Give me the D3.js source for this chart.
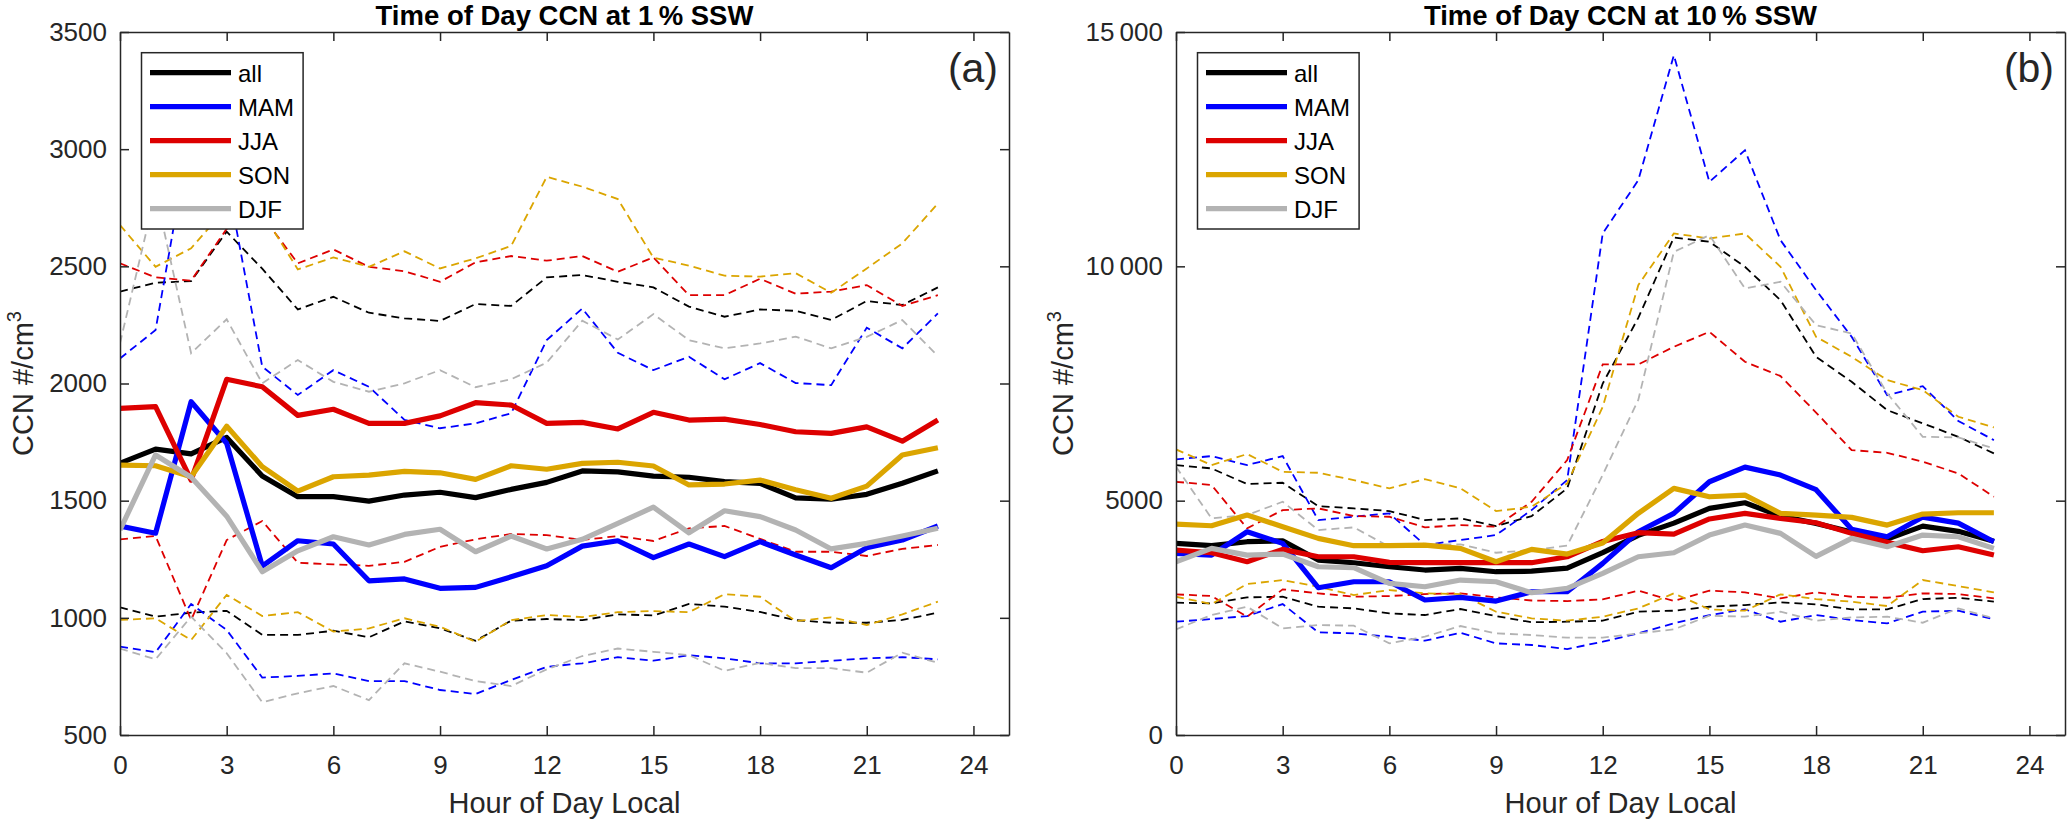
<!DOCTYPE html>
<html>
<head>
<meta charset="utf-8">
<script src="https://cdn.jsdelivr.net/npm/d3@7"></script>
<style>
  body { margin: 0; background: #fff; }
  svg { display: block; font-family: "Liberation Sans", Arial, Helvetica, sans-serif; }
</style>
</head>
<body>
<svg id="chart" width="2067" height="821"></svg>
<script>
// hours of the day and legend entries
const hours = [0, 1, 2, 3, 4, 5, 6, 7, 8, 9, 10, 11, 12, 13, 14, 15, 16, 17, 18, 19, 20, 21, 22, 23];
const seasons = ["all", "MAM", "JJA", "SON", "DJF"];
const xTicks = [0, 3, 6, 9, 12, 15, 18, 21, 24];
const yTicks1 = [500, 1000, 1500, 2000, 2500, 3000, 3500];
const yTicks10 = [0, 5000, 10000, 15000];

// (a) CCN at 1% SSW: mean, upper and lower dashed curves
const ssw1_all    = [1660, 1720, 1700, 1770, 1605, 1517, 1517, 1498, 1524, 1536, 1513, 1548, 1578, 1627, 1623, 1605, 1600, 1581, 1574, 1512, 1506, 1527, 1574, 1627];
const ssw1_all_hi = [2392, 2430, 2437, 2648, 2490, 2316, 2370, 2302, 2278, 2267, 2339, 2331, 2453, 2463, 2434, 2410, 2328, 2285, 2316, 2310, 2271, 2352, 2335, 2410];
const ssw1_all_lo = [1045, 1005, 1022, 1030, 927, 927, 945, 917, 985, 955, 902, 988, 995, 990, 1015, 1010, 1059, 1048, 1025, 990, 979, 979, 991, 1022];
const ssw1_MAM    = [1392, 1361, 1922, 1745, 1221, 1329, 1315, 1158, 1166, 1126, 1130, 1175, 1222, 1306, 1329, 1257, 1315, 1261, 1325, 1268, 1214, 1299, 1332, 1392];
const ssw1_MAM_hi = [2107, 2228, 3090, 2880, 2072, 1951, 2057, 1986, 1845, 1809, 1830, 1873, 2185, 2320, 2131, 2057, 2114, 2018, 2087, 2002, 1993, 2238, 2150, 2299];
const ssw1_MAM_lo = [877, 853, 1059, 948, 745, 752, 763, 730, 730, 692, 675, 735, 791, 806, 832, 817, 841, 827, 806, 806, 817, 827, 832, 823];
const ssw1_JJA    = [1894, 1901, 1588, 2018, 1986, 1864, 1890, 1830, 1830, 1862, 1918, 1908, 1830, 1834, 1806, 1877, 1844, 1848, 1825, 1794, 1787, 1815, 1754, 1844];
const ssw1_JJA_hi = [2513, 2453, 2439, 2660, 2715, 2513, 2572, 2498, 2479, 2434, 2517, 2544, 2524, 2544, 2477, 2538, 2377, 2377, 2447, 2383, 2392, 2420, 2331, 2377];
const ssw1_JJA_lo = [1335, 1349, 991, 1332, 1413, 1235, 1228, 1222, 1239, 1303, 1335, 1358, 1353, 1332, 1349, 1328, 1382, 1392, 1337, 1282, 1282, 1264, 1294, 1311];
const ssw1_SON    = [1652, 1649, 1602, 1818, 1645, 1541, 1602, 1609, 1625, 1619, 1591, 1649, 1634, 1659, 1664, 1648, 1567, 1571, 1588, 1547, 1510, 1562, 1695, 1726];
const ssw1_SON_hi = [2676, 2498, 2577, 2750, 2730, 2487, 2538, 2498, 2564, 2491, 2534, 2587, 2882, 2840, 2787, 2537, 2503, 2460, 2456, 2471, 2387, 2491, 2598, 2768];
const ssw1_SON_lo = [991, 998, 905, 1098, 1008, 1024, 941, 955, 998, 962, 898, 990, 1012, 1003, 1024, 1029, 1024, 1101, 1090, 986, 1002, 969, 1015, 1069];
const ssw1_DJF    = [1375, 1695, 1600, 1434, 1197, 1286, 1346, 1311, 1356, 1378, 1282, 1349, 1294, 1335, 1403, 1472, 1363, 1457, 1432, 1375, 1294, 1318, 1349, 1382];
const ssw1_DJF_hi = [2172, 2815, 2129, 2274, 2001, 2100, 2007, 1965, 2001, 2057, 1984, 2018, 2089, 2268, 2188, 2296, 2185, 2150, 2171, 2200, 2150, 2199, 2271, 2117];
const ssw1_DJF_lo = [869, 823, 1005, 849, 640, 678, 709, 649, 806, 770, 730, 709, 780, 837, 869, 855, 841, 774, 808, 785, 785, 766, 851, 808];

// (b) CCN at 10% SSW
const ssw10_all    = [4089, 4039, 4124, 4145, 3733, 3676, 3590, 3520, 3556, 3484, 3495, 3560, 3890, 4260, 4520, 4835, 4955, 4670, 4515, 4330, 4180, 4458, 4345, 4135];
const ssw10_all_hi = [5759, 5688, 5354, 5382, 4885, 4835, 4778, 4586, 4622, 4458, 4671, 5262, 7500, 8900, 10616, 10523, 9990, 9279, 8069, 7536, 6932, 6649, 6363, 6008];
const ssw10_all_lo = [2823, 2808, 2937, 2950, 2737, 2702, 2595, 2560, 2688, 2538, 2405, 2417, 2439, 2631, 2652, 2737, 2773, 2830, 2787, 2681, 2681, 2901, 2929, 2844];
const ssw10_MAM    = [3875, 3839, 4337, 4089, 3142, 3270, 3270, 2880, 2937, 2858, 3057, 3057, 3662, 4337, 4729, 5403, 5715, 5546, 5235, 4388, 4230, 4650, 4520, 4124];
const ssw10_MAM_hi = [5880, 5951, 5759, 5951, 4586, 4657, 4729, 4053, 4160, 4266, 4799, 5439, 10701, 11838, 14504, 11802, 12478, 10558, 9492, 8496, 7252, 7444, 6700, 6292];
const ssw10_MAM_lo = [2417, 2474, 2538, 2794, 2190, 2169, 2098, 2012, 2183, 1955, 1920, 1834, 1990, 2169, 2382, 2560, 2681, 2417, 2560, 2453, 2382, 2631, 2652, 2467];
const ssw10_JJA    = [3946, 3889, 3697, 3961, 3803, 3803, 3683, 3676, 3676, 3676, 3676, 3803, 4130, 4316, 4288, 4610, 4729, 4620, 4529, 4302, 4110, 3931, 4017, 3839];
const ssw10_JJA_hi = [5403, 5333, 4409, 4799, 4835, 4671, 4657, 4430, 4479, 4444, 4977, 5866, 7907, 7907, 8283, 8603, 7963, 7658, 6880, 6079, 6022, 5830, 5582, 5083];
const ssw10_JJA_lo = [3001, 2965, 2524, 3108, 3022, 2950, 2965, 3008, 3022, 2937, 2870, 2858, 2894, 3079, 2858, 3079, 3044, 2915, 3044, 2950, 2929, 3022, 3008, 2915];
const ssw10_SON    = [4501, 4465, 4693, 4444, 4195, 4039, 4039, 4053, 3982, 3697, 3961, 3861, 4095, 4729, 5262, 5083, 5119, 4729, 4693, 4643, 4479, 4714, 4742, 4742];
const ssw10_SON_hi = [6094, 5759, 5994, 5616, 5595, 5439, 5262, 5461, 5262, 4778, 4870, 5369, 7000, 9599, 10701, 10594, 10701, 9990, 8496, 8069, 7572, 7359, 6790, 6563];
const ssw10_SON_lo = [2950, 2794, 3221, 3306, 3164, 2986, 3093, 3022, 3008, 2631, 2489, 2439, 2524, 2702, 3022, 2681, 2652, 3001, 2901, 2844, 2752, 3306, 3178, 3044];
const ssw10_DJF    = [3697, 3982, 3839, 3861, 3590, 3569, 3236, 3164, 3306, 3270, 3035, 3128, 3449, 3803, 3889, 4266, 4479, 4302, 3810, 4195, 4017, 4266, 4230, 3982];
const ssw10_DJF_hi = [5723, 4622, 4693, 4977, 4373, 4430, 4017, 4068, 4068, 3889, 3946, 4039, 5550, 7150, 10309, 10665, 9528, 9670, 8745, 8568, 7290, 6363, 6349, 6115];
const ssw10_DJF_lo = [2254, 2560, 2737, 2276, 2346, 2332, 1955, 2098, 2325, 2169, 2133, 2076, 2076, 2169, 2254, 2545, 2524, 2631, 2439, 2510, 2524, 2396, 2702, 2489];

const color = d3.scaleOrdinal()
    .domain(seasons)
    .range(["#000000", "#0000ff", "#dd0000", "#dba500", "#b3b3b3"]);

const panels = [
    {
        title: "Time of Day CCN at 1\u2009% SSW", tag: "(a)", left: 120, right: 1009,
        yDomain: [500, 3500], yTicks: yTicks1,
        mean: [ssw1_all, ssw1_MAM, ssw1_JJA, ssw1_SON, ssw1_DJF],
        hi: [ssw1_all_hi, ssw1_MAM_hi, ssw1_JJA_hi, ssw1_SON_hi, ssw1_DJF_hi],
        lo: [ssw1_all_lo, ssw1_MAM_lo, ssw1_JJA_lo, ssw1_SON_lo, ssw1_DJF_lo]
    },
    {
        title: "Time of Day CCN at 10\u2009% SSW", tag: "(b)", left: 1176, right: 2065,
        yDomain: [0, 15000], yTicks: yTicks10,
        mean: [ssw10_all, ssw10_MAM, ssw10_JJA, ssw10_SON, ssw10_DJF],
        hi: [ssw10_all_hi, ssw10_MAM_hi, ssw10_JJA_hi, ssw10_SON_hi, ssw10_DJF_hi],
        lo: [ssw10_all_lo, ssw10_MAM_lo, ssw10_JJA_lo, ssw10_SON_lo, ssw10_DJF_lo]
    }
];

const plotTop = 32, plotBottom = 735;
const axisColor = "#262626";
const svg = d3.select("#chart");

// 10000 and up get a thin-space thousands separator, like the original
const fmtY = v => v >= 10000 ? d3.format(",")(v).replace(",", "\u2009") : String(v);

panels.forEach((p, pi) => {
    const x = d3.scaleLinear().domain([0, 25]).range([p.left, p.right]);
    const y = d3.scaleLinear().domain(p.yDomain).range([plotBottom, plotTop]);
    const g = svg.append("g");

    g.append("clipPath").attr("id", "clip" + pi)
        .append("rect")
        .attr("x", p.left).attr("y", plotTop)
        .attr("width", p.right - p.left).attr("height", plotBottom - plotTop);

    const line = d3.line()
        .x((d, i) => x(hours[i]))
        .y(d => y(d));

    const plot = g.append("g").attr("clip-path", `url(#clip${pi})`);

    // dashed spread curves first
    seasons.forEach((s, si) => {
        [p.hi[si], p.lo[si]].forEach(arr => {
            plot.append("path")
                .datum(arr)
                .attr("fill", "none")
                .attr("stroke", color(s))
                .attr("stroke-width", 1.8)
                .attr("stroke-dasharray", "8,5")
                .attr("d", line);
        });
    });

    // thick mean curves on top
    seasons.forEach((s, si) => {
        plot.append("path")
            .datum(p.mean[si])
            .attr("fill", "none")
            .attr("stroke", color(s))
            .attr("stroke-width", 5.2)
            .attr("stroke-linejoin", "round")
            .attr("d", line);
    });

    // axes, ticks point inward on all four sides
    const styleAxis = sel => {
        sel.selectAll("path, line").attr("stroke", axisColor).attr("stroke-width", 1.5);
        sel.selectAll("text").attr("fill", axisColor).attr("font-size", 26)
            .attr("font-family", "Liberation Sans, Arial, sans-serif");
    };

    g.append("g").attr("transform", `translate(0,${plotBottom})`)
        .call(d3.axisBottom(x).tickValues(xTicks).tickSize(-9).tickSizeOuter(0).tickPadding(21))
        .call(styleAxis);
    g.append("g").attr("transform", `translate(0,${plotTop})`)
        .call(d3.axisTop(x).tickValues(xTicks).tickSize(-9).tickSizeOuter(0).tickFormat(""))
        .call(styleAxis);
    g.append("g").attr("transform", `translate(${p.left},0)`)
        .call(d3.axisLeft(y).tickValues(p.yTicks).tickSize(-9).tickSizeOuter(0).tickPadding(13).tickFormat(fmtY))
        .call(styleAxis);
    g.append("g").attr("transform", `translate(${p.right},0)`)
        .call(d3.axisRight(y).tickValues(p.yTicks).tickSize(-9).tickSizeOuter(0).tickFormat(""))
        .call(styleAxis);

    const cx = (p.left + p.right) / 2;

    g.append("text")
        .attr("x", cx).attr("y", 25)
        .attr("text-anchor", "middle")
        .attr("font-size", 27.5).attr("font-weight", "bold")
        .text(p.title);

    g.append("text")
        .attr("x", cx).attr("y", 813)
        .attr("text-anchor", "middle")
        .attr("font-size", 29).attr("fill", axisColor)
        .text("Hour of Day Local");

    const yl = g.append("text")
        .attr("transform", `translate(${pi === 0 ? 33 : 1073},${(plotTop + plotBottom) / 2}) rotate(-90)`)
        .attr("text-anchor", "middle")
        .attr("font-size", 29).attr("fill", axisColor);
    yl.append("tspan").text("CCN #/cm");
    yl.append("tspan").attr("dy", -12).attr("font-size", 20).text("3");

    g.append("text")
        .attr("x", p.right - 11).attr("y", 82)
        .attr("text-anchor", "end")
        .attr("font-size", 41).attr("fill", axisColor)
        .text(p.tag);

    // legend
    const lg = g.append("g").attr("transform", `translate(${p.left + 21.5},52.7)`);
    lg.append("rect")
        .attr("width", 161.6).attr("height", 176.3)
        .attr("fill", "#fff").attr("stroke", axisColor).attr("stroke-width", 1.5);
    seasons.forEach((s, si) => {
        const ry = 20 + si * 34;
        lg.append("line")
            .attr("x1", 8.5).attr("x2", 89.5).attr("y1", ry).attr("y2", ry)
            .attr("stroke", color(s)).attr("stroke-width", 5.2);
        lg.append("text")
            .attr("x", 96.5).attr("y", ry + 9.5)
            .attr("font-size", 24).attr("fill", "#000")
            .text(s);
    });
});
</script>
</body>
</html>
